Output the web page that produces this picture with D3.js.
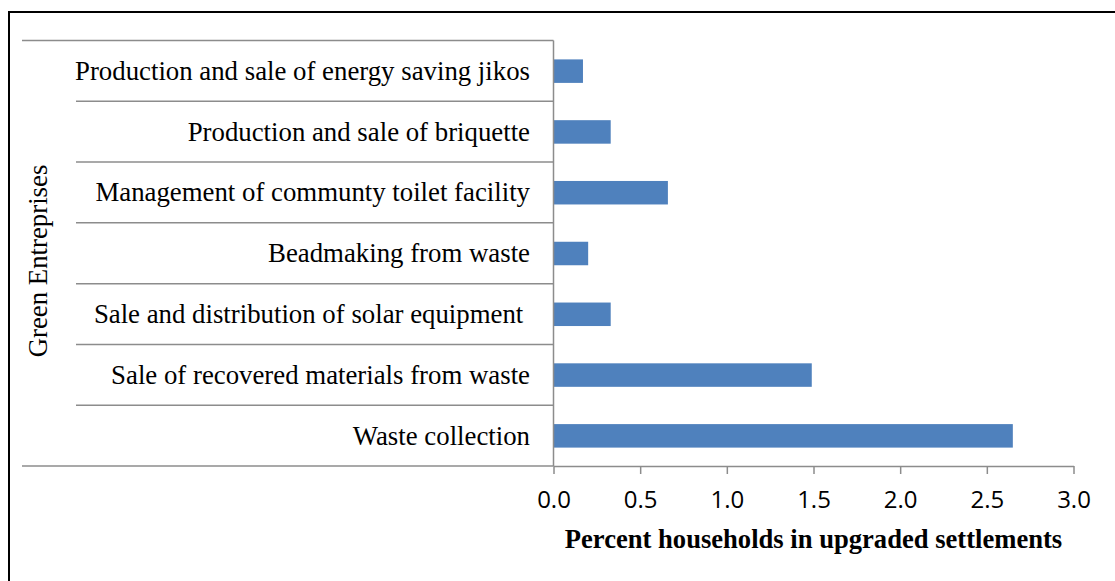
<!DOCTYPE html>
<html><head><meta charset="utf-8">
<script src="https://cdn.jsdelivr.net/npm/d3@7"></script>
<style>body{margin:0;background:#fff;} svg{display:block;}</style>
</head><body>
<svg id="c" width="1115" height="581"></svg>
<script>
const categories = [
  "Production and sale of energy saving jikos",
  "Production and sale of briquette",
  "Management of communty toilet facility",
  "Beadmaking from waste",
  "Sale and distribution of solar equipment ",
  "Sale of recovered materials from waste",
  "Waste collection"
];
const values = [0.17, 0.33, 0.66, 0.20, 0.33, 1.49, 2.65];
const xTicks = [0, 0.5, 1.0, 1.5, 2.0, 2.5, 3.0];
const xTitle = "Percent households in upgraded settlements";
const yTitle = "Green Entreprises";

(function(){
const svg = d3.select("#c");
const pLeft = 553.5, pRight = 1073.5, pTop = 40.5, pBottom = 466;
const x = d3.scaleLinear().domain([0, 3]).range([pLeft, pRight]);
const y = d3.scaleBand().domain(categories).range([pTop, pBottom]).paddingInner(0).paddingOuter(0);
const grey = "#8c8c8c";

// frame
svg.append("rect").attr("x", 9).attr("y", 12).attr("width", 1130).attr("height", 600)
  .attr("fill", "none").attr("stroke", "#000").attr("stroke-width", 2);

// bars
svg.selectAll("rect.bar").data(categories).enter().append("rect").attr("class","bar")
  .attr("x", x(0)).attr("y", d => y(d) + y.bandwidth()/2 - 11.5)
  .attr("width", (d,i) => x(values[i]) - x(0)).attr("height", 23.5)
  .attr("fill", "#4f81bd");

// category separator lines
const bounds = categories.map(d => y(d)).concat([pBottom]);
bounds.forEach((b, i) => {
  const x0 = (i === 0 || i === bounds.length - 1) ? 22 : 76;
  svg.append("line").attr("x1", x0).attr("x2", pLeft).attr("y1", b).attr("y2", b)
    .attr("stroke", grey).attr("stroke-width", 1.5);
});

// x axis
const xa = svg.append("g").attr("transform", `translate(0,${pBottom})`)
  .call(d3.axisBottom(x).tickValues(xTicks).tickFormat(d3.format(".1f")).tickSize(8).tickSizeOuter(0));
xa.attr("font-size", null).attr("font-family", null);
xa.select(".domain").attr("stroke", grey).attr("stroke-width", 1.5);
xa.selectAll(".tick line").attr("stroke", grey).attr("stroke-width", 1.5);
xa.selectAll(".tick text")
  .style("font-family", "'Open Sans', sans-serif").style("font-size", "24px")
  .attr("fill", "#000").attr("y", 42).attr("dy", 0);

// y axis line
svg.append("line").attr("x1", pLeft).attr("x2", pLeft).attr("y1", pTop).attr("y2", pBottom)
  .attr("stroke", grey).attr("stroke-width", 1.5);

// category labels
svg.selectAll("text.cat").data(categories).enter().append("text").attr("class","cat")
  .attr("x", 530).attr("y", d => y(d) + y.bandwidth()/2 + 9)
  .attr("text-anchor", "end").attr("font-family", "'Liberation Serif', serif")
  .attr("font-size", 26.8).style("white-space", "pre")
  .text(d => d);

// titles
svg.append("text").attr("x", 813.5).attr("y", 548).attr("text-anchor", "middle")
  .attr("font-family", "'Liberation Serif', serif").attr("font-weight", "bold").attr("font-size", 26.6)
  .text(xTitle);
svg.append("text").attr("transform", "translate(47,261) rotate(-90)").attr("text-anchor", "middle")
  .attr("font-family", "'Liberation Serif', serif").attr("font-size", 26.8)
  .text(yTitle);
})();
</script>
</body></html>
